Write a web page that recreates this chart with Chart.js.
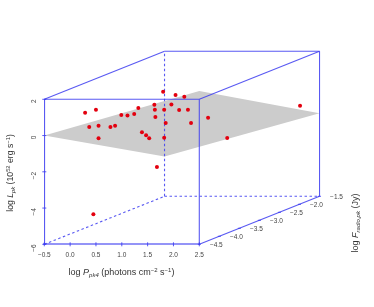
<!DOCTYPE html>
<html>
<head>
<meta charset="utf-8">
<script src="https://cdn.jsdelivr.net/npm/chart.js@4"></script>
<style>
html, body { margin: 0; padding: 0; background: #fff; }
canvas { display: block; }
</style>
</head>
<body>
<canvas id="fp" width="374" height="307"></canvas>
<script>
// axis ranges
var pRange = [-0.5, 2.5];
var lRange = [-6, 2];
var fRange = [-4.5, -1.5];
var fTicks = [-4.5, -4, -3.5, -3, -2.5, -2, -1.5];

// the points, in front face units
var pointX = [0.29, 0.50, 0.37, 0.55, 0.78, 0.87, 0.55, 0.99, 1.11, 1.24, 1.32, 1.63, 1.64, 1.82, 1.65, 1.85,
              1.39, 1.47, 1.53, 1.82, 1.68, 1.80, 2.04, 2.21, 1.96, 2.11, 2.28, 2.34, 2.67, 3.04, 4.45, 0.45];
var pointY = [1.26, 1.43, 0.47, 0.54, 0.47, 0.54, -0.15, 1.13, 1.10, 1.19, 1.52, 1.70, 1.43, 1.43, 1.02, 0.69,
              0.18, 0.01, -0.15, -0.12, -1.74, 2.42, 2.24, 2.14, 1.72, 1.41, 1.43, 0.69, 0.98, -0.14, 1.65, -4.34];

// fundamental plane corners: log P, log F, log L
var planeP = [-0.5, 2.5, 2.5, -0.5, -0.5];
var planeF = [-4.5, -4.5, -1.5, -1.5, -4.5];
var planeL = [0, 2.46, -1.42, -3.8, 0];

var BLUE = "rgba(60,60,240,0.85)";
var DEPTH_X = 120 / 51.57; // full depth shift in x units
var DEPTH_Y = 48 / 18.125; // and in y units

// oblique view: the depth axis slides a point up and to the right
function project(p, f, l) {
    var t = (f - fRange[0]) / (fRange[1] - fRange[0]);
    return { x: p + t * DEPTH_X, y: l + t * DEPTH_Y };
}

function edge(a, b, dashed, width) {
    return {
        type: "scatter",
        data: [project(a[0], a[1], a[2]), project(b[0], b[1], b[2])],
        showLine: true,
        borderColor: BLUE,
        borderWidth: width || 1.1,
        borderDash: dashed ? [2.5, 2.5] : [],
        pointRadius: 0,
        clip: false,
        order: 2
    };
}

var p0 = pRange[0], p1 = pRange[1], f0 = fRange[0], f1 = fRange[1], l0 = lRange[0], l1 = lRange[1];

var datasets = [
    {
        data: planeP.map(function (p, i) { return project(p, planeF[i], planeL[i]); }),
        showLine: true,
        fill: "shape",
        backgroundColor: "#cccccc",
        borderWidth: 0,
        pointRadius: 0,
        clip: false,
        order: 5
    },
    {
        data: pointX.map(function (x, i) { return { x: x, y: pointY[i] }; }),
        backgroundColor: "#e3000f",
        borderWidth: 0,
        pointRadius: 2,
        clip: false,
        order: 0
    },
    // hidden edges
    edge([p0, f1, l0], [p0, f1, l1], true),
    edge([p0, f0, l0], [p0, f1, l0], true),
    edge([p0, f1, l0], [p1, f1, l0], true),
    // visible edges
    edge([p0, f0, l1], [p1, f0, l1]),
    edge([p1, f0, l0], [p1, f0, l1]),
    edge([p0, f0, l1], [p0, f1, l1]),
    edge([p1, f0, l1], [p1, f1, l1]),
    edge([p0, f1, l1], [p1, f1, l1]),
    edge([p1, f1, l0], [p1, f1, l1]),
    edge([p1, f0, l0], [p1, f1, l0])
];

function minus(v) {
    return String(v).replace("-", "\u2212");
}

// text with sub and superscripts, as runs of [text, size, italic, rise]
function drawRuns(ctx, runs, cx, cy, rotation) {
    var family = "'Liberation Sans', Arial, sans-serif";
    var total = 0;
    runs.forEach(function (r) {
        ctx.font = (r[2] ? "italic " : "") + r[1] + "px " + family;
        total += ctx.measureText(r[0]).width;
    });
    ctx.save();
    ctx.translate(cx, cy);
    ctx.rotate(rotation);
    ctx.fillStyle = "#333";
    ctx.textAlign = "left";
    ctx.textBaseline = "alphabetic";
    var x = -total / 2;
    runs.forEach(function (r) {
        ctx.font = (r[2] ? "italic " : "") + r[1] + "px " + family;
        ctx.fillText(r[0], x, -r[3]);
        x += ctx.measureText(r[0]).width;
    });
    ctx.restore();
}

var extras = {
    id: "extras",
    // the box sticks out of the front face, so let points draw outside it
    beforeDatasetsDraw: function (chart) {
        chart.$area = chart.chartArea;
        chart.chartArea = { left: 0, top: 0, right: chart.width, bottom: chart.height, width: chart.width, height: chart.height };
    },
    afterDatasetsDraw: function (chart) {
        chart.chartArea = chart.$area;
    },
    afterDraw: function (chart) {
        var ctx = chart.ctx, sx = chart.scales.x, sy = chart.scales.y;
        ctx.save();
        ctx.strokeStyle = BLUE;
        ctx.lineWidth = 1;
        // ticks cross the axis lines
        sx.ticks.forEach(function (t) {
            var px = sx.getPixelForValue(t.value);
            ctx.beginPath();
            ctx.moveTo(px, sy.bottom - 2);
            ctx.lineTo(px, sy.bottom + 2);
            ctx.stroke();
        });
        sy.ticks.forEach(function (t) {
            var py = sy.getPixelForValue(t.value);
            ctx.beginPath();
            ctx.moveTo(sx.left - 2, py);
            ctx.lineTo(sx.left + 2, py);
            ctx.stroke();
        });
        // depth axis ticks and labels
        ctx.font = "6.5px 'Liberation Sans', Arial, sans-serif";
        ctx.textAlign = "center";
        ctx.textBaseline = "middle";
        fTicks.forEach(function (f) {
            var q = project(p1, f, l0);
            var px = sx.getPixelForValue(q.x), py = sy.getPixelForValue(q.y);
            ctx.beginPath();
            ctx.moveTo(px - 1.5, py);
            ctx.lineTo(px + 1.5, py);
            ctx.stroke();
            ctx.fillStyle = "#444";
            ctx.fillText(minus(f.toFixed(1)), px + 17, py + 0.5);
        });
        ctx.restore();

        drawRuns(ctx, [["log ", 9, false, 0], ["P", 9, true, 0], ["pk4", 6, true, -2], [" (photons cm", 9, false, 0],
            ["\u22122", 6, false, 3.5], [" s", 9, false, 0], ["\u22121", 6, false, 3.5], [")", 9, false, 0]], 121.5, 275, 0);
        drawRuns(ctx, [["log ", 8.7, false, 0], ["L", 8.7, true, 0], ["pk", 5.8, true, -2], [" (10", 8.7, false, 0],
            ["52", 5.8, false, 3.5], [" erg s", 8.7, false, 0], ["\u22121", 5.8, false, 3.5], [")", 8.7, false, 0]], 13, 173, -Math.PI / 2);
        drawRuns(ctx, [["log ", 9, false, 0], ["F", 9, true, 0], ["radio,pk", 6, true, -2], [" (Jy)", 9, false, 0]], 358, 223, -Math.PI / 2);
    }
};

var chart = new Chart(document.getElementById("fp"), {
    type: "scatter",
    data: { datasets: datasets },
    plugins: [extras],
    options: {
        responsive: false,
        animation: false,
        layout: { padding: { left: 20, right: 174.7, top: 99.3, bottom: 20 } },
        plugins: { legend: { display: false }, tooltip: { enabled: false } },
        scales: {
            x: {
                min: p0, max: p1,
                afterFit: function (s) { s.height = 42.7; },
                ticks: {
                    stepSize: 0.5, maxRotation: 0, autoSkip: false, padding: 7,
                    color: "#444", font: { family: "'Liberation Sans', Arial, sans-serif", size: 6.5 },
                    callback: function (v) { return minus(v.toFixed(1)); }
                },
                grid: { drawOnChartArea: false, drawTicks: false },
                border: { color: "rgba(60,60,240,0.55)", width: 2 }
            },
            y: {
                min: l0, max: l1,
                afterFit: function (s) { s.width = 24.3; },
                ticks: {
                    stepSize: 2, minRotation: 90, maxRotation: 90, padding: 10,
                    color: "#444", font: { family: "'Liberation Sans', Arial, sans-serif", size: 6.5 },
                    callback: function (v) { return minus(v); }
                },
                grid: { drawOnChartArea: false, drawTicks: false },
                border: { color: BLUE, width: 1.1 }
            }
        }
    }
});
</script>
</body>
</html>
